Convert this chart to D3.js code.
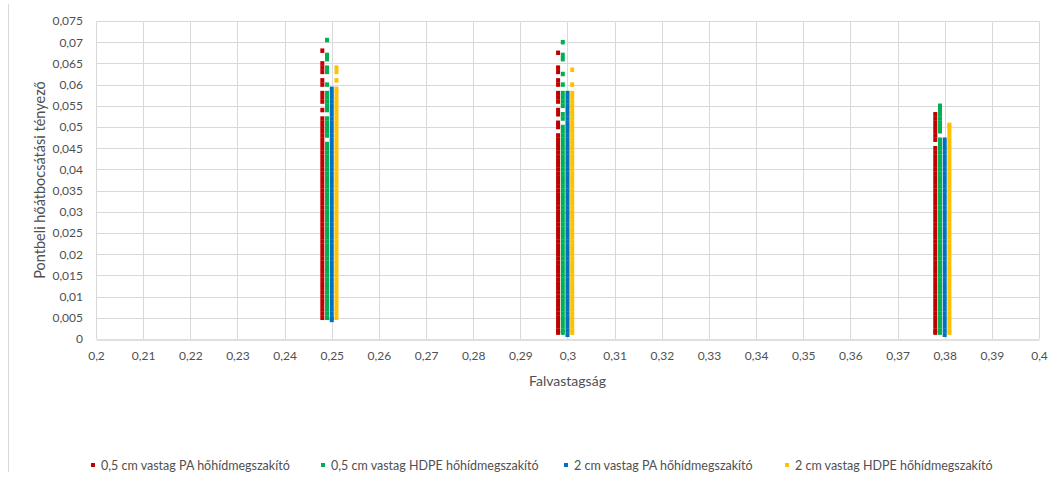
<!DOCTYPE html>
<html>
<head>
<meta charset="utf-8">
<script src="https://cdn.jsdelivr.net/npm/d3@7"></script>
<style>
  html, body { margin: 0; padding: 0; background: #fff; }
  svg { display: block; font-family: Lato, "Open Sans", sans-serif; }
</style>
</head>
<body>
<svg id="chart" width="1056" height="479"></svg>
<script>
// Wall thickness (m) per series: each series is plotted slightly offset around 0.25 / 0.30 / 0.38
const xTicks = [0.2, 0.21, 0.22, 0.23, 0.24, 0.25, 0.26, 0.27, 0.28, 0.29, 0.3,
                0.31, 0.32, 0.33, 0.34, 0.35, 0.36, 0.37, 0.38, 0.39, 0.4];
const yTicks = [0, 0.005, 0.01, 0.015, 0.02, 0.025, 0.03, 0.035, 0.04, 0.045,
                0.05, 0.055, 0.06, 0.065, 0.07, 0.075];

const seriesNames = [
  "0,5 cm vastag PA hőhídmegszakító",
  "0,5 cm vastag HDPE hőhídmegszakító",
  "2 cm vastag PA hőhídmegszakító",
  "2 cm vastag HDPE hőhídmegszakító"
];
const seriesColors = ["#C00000", "#00B050", "#0070C0", "#FFC000"];

// x positions of each series at the three wall thicknesses
const paThinX   = [0.248, 0.298, 0.378];
const hdpeThinX = [0.249, 0.299, 0.379];
const paThickX  = [0.250, 0.300, 0.380];
const hdpeThickX = [0.251, 0.301, 0.381];

// point thermal transmittance values (W/K)
// 0,5 cm PA
const paThin25 = [0.005,0.006,0.007,0.008,0.009,0.010,0.011,0.012,0.013,0.014,0.015,0.016,0.017,0.018,0.019,0.020,
  0.021,0.022,0.023,0.024,0.025,0.026,0.027,0.028,0.029,0.030,0.031,0.032,0.033,0.034,0.035,0.036,0.037,0.038,
  0.039,0.040,0.041,0.042,0.043,0.044,0.045,0.046,0.047,0.048,0.049,0.050,0.051,0.052,
  0.054,0.056,0.057,0.058,0.060,0.061,0.063,0.064,0.065,0.068];
const paThin30 = [0.0015,0.002,0.003,0.004,0.005,0.006,0.007,0.008,0.009,0.010,0.011,0.012,0.013,0.014,0.015,0.016,
  0.017,0.018,0.019,0.020,0.021,0.022,0.023,0.024,0.025,0.026,0.027,0.028,0.029,0.030,0.031,0.032,0.033,0.034,
  0.035,0.036,0.037,0.038,0.039,0.040,0.041,0.042,0.043,0.044,0.045,0.046,0.047,0.048,
  0.050,0.051,0.053,0.054,0.056,0.057,0.058,0.060,0.061,0.063,0.064,0.0675];
const paThin38 = [0.0015,0.002,0.003,0.004,0.005,0.006,0.007,0.008,0.009,0.010,0.011,0.012,0.013,0.014,0.015,0.016,
  0.017,0.018,0.019,0.020,0.021,0.022,0.023,0.024,0.025,0.026,0.027,0.028,0.029,0.030,0.031,0.032,0.033,0.034,
  0.035,0.036,0.037,0.038,0.039,0.040,0.041,0.042,0.043,0.044,0.045,
  0.047,0.048,0.049,0.050,0.051,0.052,0.053];

// 0,5 cm HDPE
const hdpeThin25 = [0.005,0.006,0.007,0.008,0.009,0.010,0.011,0.012,0.013,0.014,0.015,0.016,0.017,0.018,0.019,0.020,
  0.021,0.022,0.023,0.024,0.025,0.026,0.027,0.028,0.029,0.030,0.031,0.032,0.033,0.034,0.035,0.036,0.037,0.038,
  0.039,0.040,0.041,0.042,0.043,0.044,0.045,0.046,
  0.048,0.049,0.050,0.051,0.052,0.054,0.055,0.056,0.057,0.058,0.060,0.063,0.064,0.066,0.067,0.0705];
const hdpeThin30 = [0.0015,0.002,0.003,0.004,0.005,0.006,0.007,0.008,0.009,0.010,0.011,0.012,0.013,0.014,0.015,0.016,
  0.017,0.018,0.019,0.020,0.021,0.022,0.023,0.024,0.025,0.026,0.027,0.028,0.029,0.030,0.031,0.032,0.033,0.034,
  0.035,0.036,0.037,0.038,0.039,0.040,0.041,0.042,0.043,0.044,0.045,0.046,0.047,0.048,0.049,0.050,
  0.052,0.053,0.055,0.056,0.057,0.058,0.060,0.0625,0.066,0.067,0.070];
const hdpeThin38 = [0.0015,0.002,0.003,0.004,0.005,0.006,0.007,0.008,0.009,0.010,0.011,0.012,0.013,0.014,0.015,0.016,
  0.017,0.018,0.019,0.020,0.021,0.022,0.023,0.024,0.025,0.026,0.027,0.028,0.029,0.030,0.031,0.032,0.033,0.034,
  0.035,0.036,0.037,0.038,0.039,0.040,0.041,0.042,0.043,0.044,0.045,0.046,0.047,
  0.049,0.050,0.051,0.052,0.053,0.054,0.055];

// 2 cm PA
const paThick25 = [0.0045,0.005,0.006,0.007,0.008,0.009,0.010,0.011,0.012,0.013,0.014,0.015,0.016,0.017,0.018,0.019,
  0.020,0.021,0.022,0.023,0.024,0.025,0.026,0.027,0.028,0.029,0.030,0.031,0.032,0.033,0.034,0.035,0.036,0.037,
  0.038,0.039,0.040,0.041,0.042,0.043,0.044,0.045,0.046,0.047,0.048,0.049,0.050,0.051,0.052,0.053,0.054,0.055,
  0.056,0.057,0.058,0.059];
const paThick30 = [0.001,0.002,0.003,0.004,0.005,0.006,0.007,0.008,0.009,0.010,0.011,0.012,0.013,0.014,0.015,0.016,
  0.017,0.018,0.019,0.020,0.021,0.022,0.023,0.024,0.025,0.026,0.027,0.028,0.029,0.030,0.031,0.032,0.033,0.034,
  0.035,0.036,0.037,0.038,0.039,0.040,0.041,0.042,0.043,0.044,0.045,0.046,0.047,0.048,0.049,0.050,0.051,0.052,
  0.053,0.054,0.055,0.056,0.057,0.058];
const paThick38 = [0.001,0.002,0.003,0.004,0.005,0.006,0.007,0.008,0.009,0.010,0.011,0.012,0.013,0.014,0.015,0.016,
  0.017,0.018,0.019,0.020,0.021,0.022,0.023,0.024,0.025,0.026,0.027,0.028,0.029,0.030,0.031,0.032,0.033,0.034,
  0.035,0.036,0.037,0.038,0.039,0.040,0.041,0.042,0.043,0.044,0.045,0.046,0.047];

// 2 cm HDPE
const hdpeThick25 = [0.005,0.006,0.007,0.008,0.009,0.010,0.011,0.012,0.013,0.014,0.015,0.016,0.017,0.018,0.019,0.020,
  0.021,0.022,0.023,0.024,0.025,0.026,0.027,0.028,0.029,0.030,0.031,0.032,0.033,0.034,0.035,0.036,0.037,0.038,
  0.039,0.040,0.041,0.042,0.043,0.044,0.045,0.046,0.047,0.048,0.049,0.050,0.051,0.052,0.053,0.054,0.055,0.056,
  0.057,0.058,0.059,0.061,0.063,0.064];
const hdpeThick30 = [0.0015,0.002,0.003,0.004,0.005,0.006,0.007,0.008,0.009,0.010,0.011,0.012,0.013,0.014,0.015,0.016,
  0.017,0.018,0.019,0.020,0.021,0.022,0.023,0.024,0.025,0.026,0.027,0.028,0.029,0.030,0.031,0.032,0.033,0.034,
  0.035,0.036,0.037,0.038,0.039,0.040,0.041,0.042,0.043,0.044,0.045,0.046,0.047,0.048,0.049,0.050,0.051,0.052,
  0.053,0.054,0.055,0.056,0.057,0.058,0.060,0.0635];
const hdpeThick38 = [0.0015,0.002,0.003,0.004,0.005,0.006,0.007,0.008,0.009,0.010,0.011,0.012,0.013,0.014,0.015,0.016,
  0.017,0.018,0.019,0.020,0.021,0.022,0.023,0.024,0.025,0.026,0.027,0.028,0.029,0.030,0.031,0.032,0.033,0.034,
  0.035,0.036,0.037,0.038,0.039,0.040,0.041,0.042,0.043,0.044,0.045,0.046,0.047,0.048,0.049,0.050,0.0505];

// assemble per-series point lists: [x, y]
function pointsOf(xs, ysList) {
  const pts = [];
  xs.forEach((x, i) => ysList[i].forEach(y => pts.push([x, y])));
  return pts;
}
const series = [
  pointsOf(paThinX,   [paThin25, paThin30, paThin38]),
  pointsOf(hdpeThinX, [hdpeThin25, hdpeThin30, hdpeThin38]),
  pointsOf(paThickX,  [paThick25, paThick30, paThick38]),
  pointsOf(hdpeThickX, [hdpeThick25, hdpeThick30, hdpeThick38])
];

const svg = d3.select("#chart");
const plot = { left: 96, right: 1039, top: 21, bottom: 339 };

const x = d3.scaleLinear().domain([0.2, 0.4]).range([plot.left, plot.right]);
const y = d3.scaleLinear().domain([0, 0.075]).range([plot.bottom, plot.top]);
const fmt = v => String(+v.toFixed(3)).replace(".", ",");
const textColor = "#505050";

// outer chart border (left edge)
svg.append("line")
  .attr("x1", 8.5).attr("x2", 8.5).attr("y1", 4).attr("y2", 472)
  .attr("stroke", "#d9d9d9").attr("stroke-width", 1);

// gridlines
const grid = svg.append("g");
grid.selectAll("line.h").data(yTicks.slice(1)).join("line")
  .attr("x1", plot.left).attr("x2", plot.right)
  .attr("y1", d => Math.round(y(d)) + 0.5).attr("y2", d => Math.round(y(d)) + 0.5)
  .attr("stroke", "#d9d9d9");
grid.selectAll("line.v").data(xTicks).join("line")
  .attr("y1", plot.top).attr("y2", plot.bottom)
  .attr("x1", d => Math.round(x(d)) + 0.5).attr("x2", d => Math.round(x(d)) + 0.5)
  .attr("stroke", "#d9d9d9");

// axes
const xAxis = svg.append("g")
  .attr("transform", `translate(0,${plot.bottom + 0.5})`)
  .call(d3.axisBottom(x).tickValues(xTicks).tickFormat(fmt).tickSize(0).tickPadding(12));
xAxis.select(".domain").attr("stroke", "#bfbfbf");
xAxis.selectAll("text").attr("fill", textColor).style("font-size", "12px")
  .style("font-family", "Lato, sans-serif");

const yAxis = svg.append("g")
  .attr("transform", `translate(${plot.left},0)`)
  .call(d3.axisLeft(y).tickValues(yTicks).tickFormat(fmt).tickSize(0).tickPadding(13));
yAxis.select(".domain").remove();
yAxis.selectAll("text").attr("fill", textColor).style("font-size", "12px")
  .style("font-family", "Lato, sans-serif");

// markers
const mw = 4, mh = 4.5;
series.forEach((pts, i) => {
  svg.append("g").selectAll("rect").data(pts).join("rect")
    .attr("x", d => x(d[0]) - mw / 2)
    .attr("y", d => y(d[1]) - mh / 2)
    .attr("width", mw).attr("height", mh)
    .attr("fill", seriesColors[i]);
});

// axis titles
svg.append("text")
  .attr("x", (plot.left + plot.right) / 2).attr("y", 386)
  .attr("text-anchor", "middle").attr("fill", textColor)
  .style("font-size", "14px")
  .text("Falvastagság");

svg.append("text")
  .attr("transform", `translate(45,${(plot.top + plot.bottom) / 2}) rotate(-90)`)
  .attr("text-anchor", "middle").attr("fill", textColor)
  .style("font-size", "14.5px")
  .text("Pontbeli hőátbocsátási tényező");

// legend
const legendX = [93, 323, 566, 787];
const legend = svg.append("g");
seriesNames.forEach((name, i) => {
  legend.append("rect")
    .attr("x", legendX[i] - 2).attr("y", 463).attr("width", 4).attr("height", 4)
    .attr("fill", seriesColors[i]);
  legend.append("text")
    .attr("x", legendX[i] + 8).attr("y", 469.5)
    .attr("fill", textColor).style("font-size", "12.5px")
    .text(name);
});
</script>
</body>
</html>
